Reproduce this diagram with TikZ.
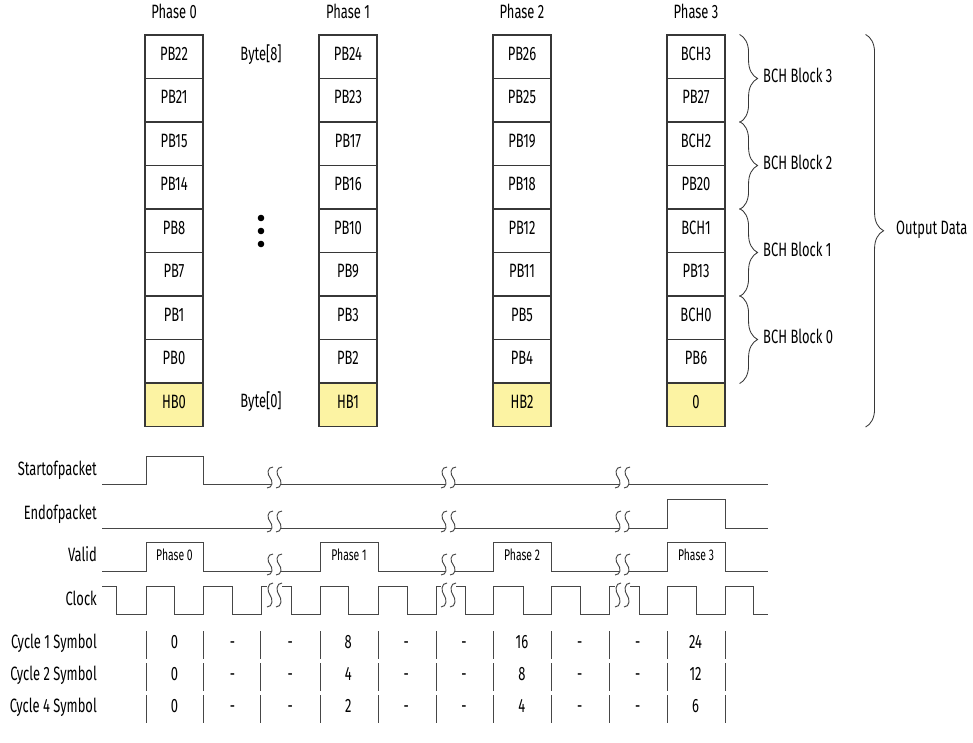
\documentclass[tikz,border=0pt]{standalone}
\usepackage{fontspec}
\setmainfont{Fira Sans}[FakeStretch=0.67]
\usetikzlibrary{decorations.pathreplacing}
\definecolor{hbyellow}{RGB}{252,243,163}
\definecolor{ln}{RGB}{55,55,55}
\definecolor{sg}{RGB}{70,70,70}
\newcommand{\brkS}[3]{\draw[sig, shift={(#1,#2)}, yscale=#3/20] (6,0) .. controls (0,0) and (0,7) .. (3,10) .. controls (6,13) and (6,20) .. (0,20);}
\newcommand{\brkP}[3]{\brkS{#1}{#2}{#3}\brkS{#1+9}{#2}{#3}}
\begin{document}
\begin{tikzpicture}[x=1pt,y=-1pt,
  txt/.style={font=\fontsize{19.3}{22}\selectfont, inner sep=0pt, text height=0.69em, text depth=0pt, text=black},
  small/.style={txt, font=\fontsize{15.5}{18}\selectfont},
  cell/.style={txt, draw=ln, line width=1.1pt, minimum width=58pt, minimum height=43.5pt, fill=white},
  hb/.style={cell, fill=hbyellow},
  sig/.style={draw=sg, line width=0.95pt},
  bar/.style={draw=sg, line width=0.95pt},
  brc/.style={decorate, decoration={brace, amplitude=18pt}, draw=ln, line width=0.85pt}]
\useasboundingbox (0,0) rectangle (973,743);

% phase headers
\node[txt] (ph0) at (174,15) {Phase 0};
\node[txt] (ph1) at (348,15) {Phase 1};
\node[txt] (ph2) at (522,15) {Phase 2};
\node[txt] (ph3) at (696,15) {Phase 3};

% columns
\foreach \t [count=\r from 0] in {PB22,PB21,PB15,PB14,PB8,PB7,PB1,PB0}
  \node[cell] (a\r) at (174,{56.75+43.5*\r}) {\t};
\node[hb] (a8) at (174,404.75) {HB0};
\foreach \t [count=\r from 0] in {PB24,PB23,PB17,PB16,PB10,PB9,PB3,PB2}
  \node[cell] (b\r) at (348,{56.75+43.5*\r}) {\t};
\node[hb] (b8) at (348,404.75) {HB1};
\foreach \t [count=\r from 0] in {PB26,PB25,PB19,PB18,PB12,PB11,PB5,PB4}
  \node[cell] (c\r) at (522,{56.75+43.5*\r}) {\t};
\node[hb] (c8) at (522,404.75) {HB2};
\foreach \t [count=\r from 0] in {BCH3,PB27,BCH2,PB20,BCH1,PB13,BCH0,PB6}
  \node[cell] (d\r) at (696,{56.75+43.5*\r}) {\t};
\node[hb] (d8) at (696,404.75) {0};

% byte labels and dots
\node[txt] (by8) at (261,57) {Byte[8]};
\node[txt] (by0) at (261,404) {Byte[0]};
\fill[black] (261,218) circle (3.3pt) (261,231) circle (3.3pt) (261,244) circle (3.3pt);

% BCH braces
\draw[brc] ([xshift=14pt]d0.north east) -- ([xshift=14pt]d1.south east);
\draw[brc] ([xshift=14pt]d2.north east) -- ([xshift=14pt]d3.south east);
\draw[brc] ([xshift=14pt]d4.north east) -- ([xshift=14pt]d5.south east);
\draw[brc] ([xshift=14pt]d6.north east) -- ([xshift=14pt]d7.south east);
\node[txt, anchor=west] (bk3) at (763,79) {BCH Block 3};
\node[txt, anchor=west] (bk2) at (763,166) {BCH Block 2};
\node[txt, anchor=west] (bk1) at (763,253) {BCH Block 1};
\node[txt, anchor=west] (bk0) at (763,340) {BCH Block 0};
\draw[brc] ([xshift=140pt]d0.north east) -- ([xshift=140pt]d8.south east);
\node[txt, anchor=west] (out) at (896,231) {Output Data};

% timing labels
\node[txt, anchor=east] (lsop) at (97,472) {Startofpacket};
\node[txt, anchor=east] (leop) at (97,516) {Endofpacket};
\node[txt, anchor=east] (lval) at (97,558) {Valid};
\node[txt, anchor=east] (lclk) at (97,602) {Clock};

% Startofpacket
\draw[sig] (102,484) -- (146,484) -- (146,456) -- (203,456) -- (203,484) -- (271,484);
\draw[sig] (280,484) -- (445,484);
\draw[sig] (454,484) -- (619,484);
\draw[sig] (628,484) -- (768,484);
% Endofpacket
\draw[sig] (102,528) -- (271,528);
\draw[sig] (280,528) -- (445,528);
\draw[sig] (454,528) -- (619,528);
\draw[sig] (628,528) -- (667,528) -- (667,499) -- (725,499) -- (725,528) -- (768,528);
% Valid
\draw[sig] (102,571) -- (146,571) -- (146,542) -- (203,542) -- (203,571) -- (271,571);
\draw[sig] (280,571) -- (320,571) -- (320,542) -- (378,542) -- (378,571) -- (445,571);
\draw[sig] (454,571) -- (493,571) -- (493,542) -- (551,542) -- (551,571) -- (619,571);
\draw[sig] (628,571) -- (667,571) -- (667,542) -- (725,542) -- (725,571) -- (768,571);
\node[small] (v0) at (174.5,557) {Phase 0};
\node[small] (v1) at (349,557) {Phase 1};
\node[small] (v2) at (522,557) {Phase 2};
\node[small] (v3) at (696,557) {Phase 3};
% Clock
\draw[sig] (102,586) -- (116,586) -- (116,614) -- (146,614) -- (146,586) -- (174,586) -- (174,614) -- (203,614) -- (203,586) -- (232,586) -- (232,614) -- (261,614) -- (261,586) -- (267,586);
\draw[sig] (282,586) -- (291,586) -- (291,614) -- (320,614) -- (320,586) -- (348,586) -- (348,614) -- (378,614) -- (378,586) -- (407,586) -- (407,614) -- (436,614) -- (436,586) -- (441,586);
\draw[sig] (456,586) -- (465,586) -- (465,614) -- (493,614) -- (493,586) -- (523,586) -- (523,614) -- (551,614) -- (551,586) -- (580,586) -- (580,614) -- (609,614) -- (609,586) -- (615,586);
\draw[sig] (630,586) -- (639,586) -- (639,614) -- (667,614) -- (667,586) -- (696,586) -- (696,614) -- (725,614) -- (725,586) -- (753,586) -- (753,614) -- (768,614);
% breaks
\foreach \b in {267,441,615} {
  \brkP{\b}{467}{21}
  \brkP{\b}{511}{21}
  \brkP{\b}{554}{21}
  \brkP{\b}{583}{24}
}

% cycle rows
\node[txt, anchor=east] (lc1) at (97,645) {Cycle 1 Symbol};
\node[txt, anchor=east] (lc2) at (97,677) {Cycle 2 Symbol};
\node[txt, anchor=east] (lc4) at (97,709) {Cycle 4 Symbol};
\foreach \y in {645,677,709}
  \foreach \x in {146,203,260,320,378,436,493,551,609,667,725}
    \draw[bar] (\x,\y-14) -- (\x,\y+14);
\foreach \v [count=\i from 0] in {0,-,-,8,-,-,16,-,-,24}
  \node[txt] (ca\i) at ({174.5+57.9*\i},645) {\v};
\foreach \v [count=\i from 0] in {0,-,-,4,-,-,8,-,-,12}
  \node[txt] (cb\i) at ({174.5+57.9*\i},677) {\v};
\foreach \v [count=\i from 0] in {0,-,-,2,-,-,4,-,-,6}
  \node[txt] (cc\i) at ({174.5+57.9*\i},709) {\v};
\end{tikzpicture}
\end{document}
